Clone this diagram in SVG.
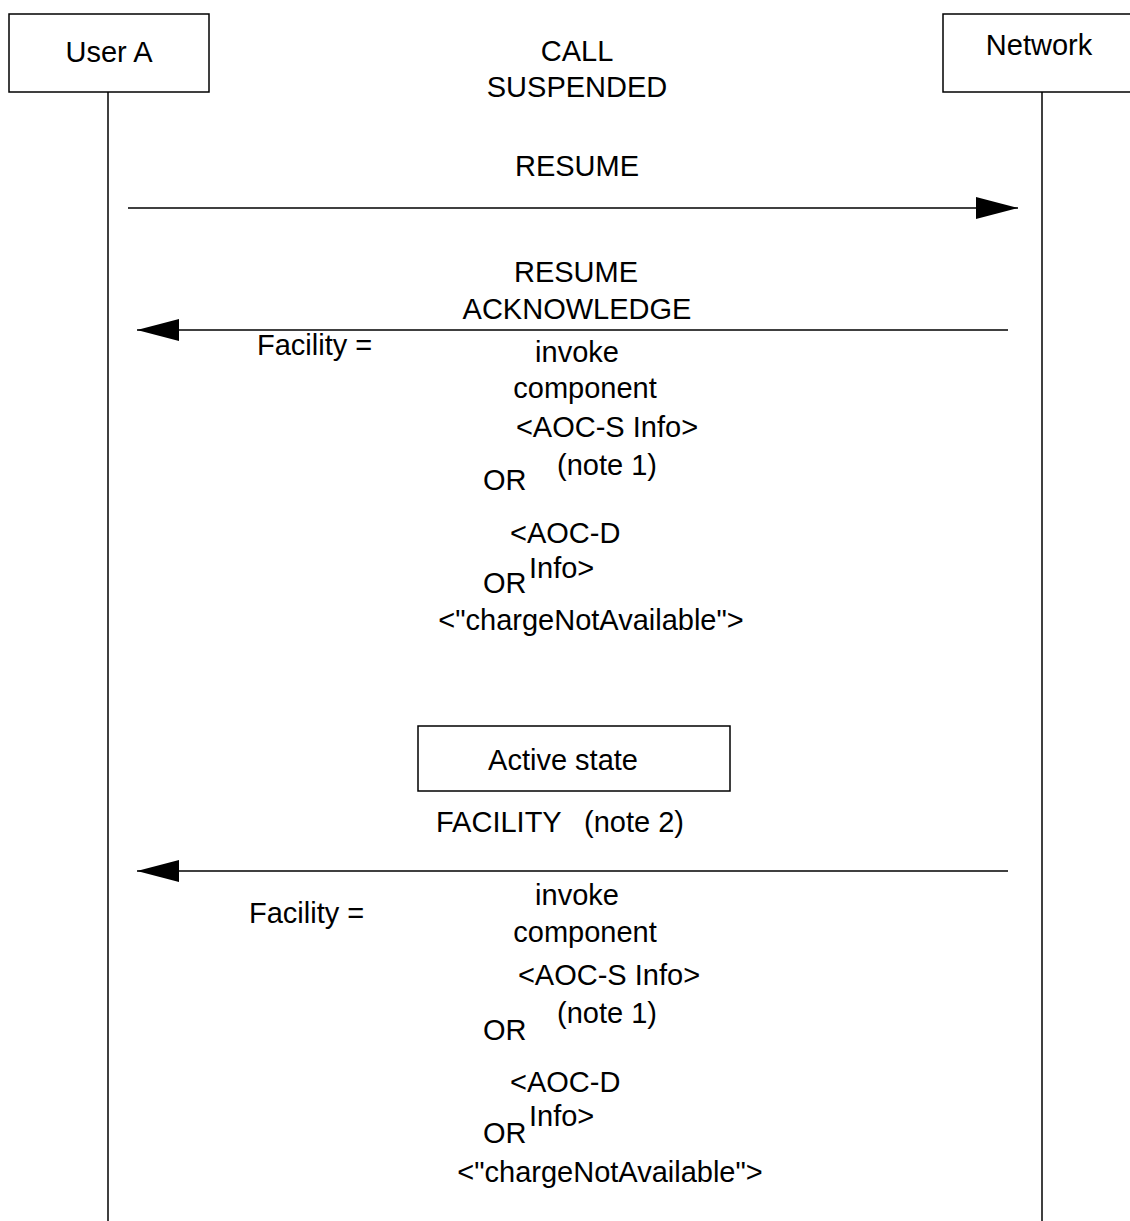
<svg xmlns="http://www.w3.org/2000/svg" width="1130" height="1221" viewBox="0 0 1130 1221">
<style>
text{font-family:"Liberation Sans",Arial,sans-serif;font-size:29px;fill:#000}
.c{text-anchor:middle}
.box{fill:#fff;stroke:#000;stroke-width:1.5}
.ln{stroke:#000;stroke-width:1.5;fill:none}
</style>
<defs>
<marker id="ah" viewBox="0 0 42 22" markerWidth="42" markerHeight="22" refX="42" refY="11" orient="auto" markerUnits="userSpaceOnUse">
<path d="M0,0 L42,11 L0,22 z" fill="#000"/>
</marker>
</defs>
<rect width="1130" height="1221" fill="#fff"/>
<g id="userA">
<rect class="box" x="9" y="14" width="200" height="78"/>
<text class="c" x="109" y="62">User A</text>
<line class="ln" x1="108" y1="92" x2="108" y2="1221"/>
</g>
<g id="network">
<rect class="box" x="943" y="14" width="200" height="78"/>
<text class="c" x="1039" y="55">Network</text>
<line class="ln" x1="1042" y1="92" x2="1042" y2="1221"/>
</g>
<g id="callSuspended">
<text class="c" x="577" y="61">CALL</text>
<text class="c" x="577" y="97">SUSPENDED</text>
</g>
<g id="activeState">
<rect class="box" x="418" y="726" width="312" height="65"/>
<text class="c" x="563" y="770">Active state</text>
</g>
<g id="connectors">
<line class="ln" x1="128" y1="208" x2="1018" y2="208" marker-end="url(#ah)"/>
<line class="ln" x1="1008" y1="330" x2="137" y2="330" marker-end="url(#ah)"/>
<line class="ln" x1="1008" y1="871" x2="137" y2="871" marker-end="url(#ah)"/>
</g>
<g id="labels1">
<text class="c" x="577" y="176">RESUME</text>
<text class="c" x="576" y="282">RESUME</text>
<text class="c" x="577" y="319">ACKNOWLEDGE</text>
<text x="257" y="355">Facility =</text>
<text class="c" x="577" y="362">invoke</text>
<text class="c" x="585" y="398">component</text>
<text class="c" x="607" y="437">&lt;AOC-S Info&gt;</text>
<text class="c" x="607" y="475">(note 1)</text>
<text x="483" y="490">OR</text>
<text x="510" y="543">&lt;AOC-D</text>
<text x="529" y="578">Info&gt;</text>
<text x="483" y="593">OR</text>
<text class="c" x="591" y="630">&lt;"chargeNotAvailable"&gt;</text>
</g>
<g id="labels2">
<text x="436" y="832">FACILITY<tspan x="584">(note 2)</tspan></text>
<text x="249" y="923">Facility =</text>
<text class="c" x="577" y="905">invoke</text>
<text class="c" x="585" y="942">component</text>
<text class="c" x="609" y="985">&lt;AOC-S Info&gt;</text>
<text class="c" x="607" y="1023">(note 1)</text>
<text x="483" y="1040">OR</text>
<text x="510" y="1092">&lt;AOC-D</text>
<text x="529" y="1126">Info&gt;</text>
<text x="483" y="1143">OR</text>
<text class="c" x="610" y="1182">&lt;"chargeNotAvailable"&gt;</text>
</g>
</svg>
